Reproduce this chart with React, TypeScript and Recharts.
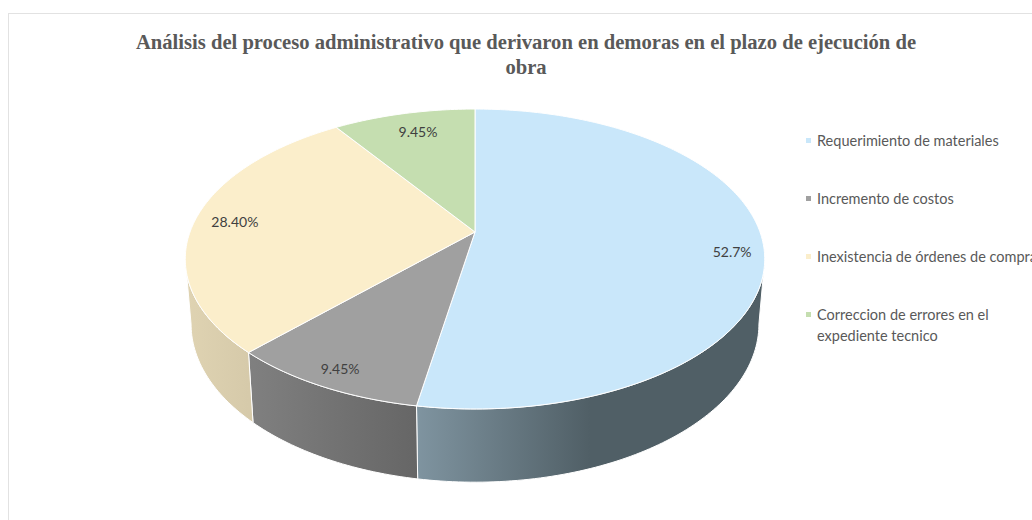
import { PieChart, Pie, Legend } from 'recharts';

const categories = [
  'Requerimiento de materiales',
  'Incremento de costos',
  'Inexistencia de órdenes de compra',
  'Correccion de errores en el expediente tecnico',
];
const values = [52.7, 9.45, 28.4, 9.45];
const valueLabels = ['52.7%', '9.45%', '28.40%', '9.45%'];
const colors = ['#c9e7fa', '#a0a0a0', '#fbeecb', '#c5deb0'];
const titleLines = [
  'Análisis del proceso administrativo que derivaron en demoras en el plazo de ejecución de',
  'obra',
];

const data = categories.map((name, i) => ({
  name,
  value: values[i],
  label: valueLabels[i],
  fill: colors[i],
  wall: `wall${i}`,
}));

// the pie is tilted with perspective, so a point on the unit disc gets projected
const CX = 475;
const CY = 232;
const RX = 285;
const RY = 145.1;
const K = 0.18;
// back edge of the visible side wall, degrees clockwise from the top
const WALL_FROM = 100.4;
const WALL_TO = 259.6;
const LABEL_RADIUS = 0.9;
const labelNudge = [
  [-2, 8],
  [0, 0],
  [12, 0],
  [8, 8],
];

function project(deg: number, r = 1) {
  const a = (deg * Math.PI) / 180;
  const u = r * Math.sin(a);
  const v = -r * Math.cos(a);
  const w = 1 - K * v;
  return { x: CX + (RX * u) / w, y: CY + (RY * v) / w };
}

// same rim, one wall height further down
function lower(p: { x: number; y: number }) {
  return { x: CX + (p.x - CX) * 0.98, y: 295.5 + (p.y - CY) * 1.055 };
}

function arc(from: number, to: number) {
  const n = Math.max(2, Math.ceil(Math.abs(to - from)));
  const pts = [];
  for (let i = 0; i <= n; i++) pts.push(project(from + ((to - from) * i) / n));
  return pts;
}

const toPath = (pts: { x: number; y: number }[]) =>
  pts.map((p, i) => `${i ? 'L' : 'M'}${p.x.toFixed(2)} ${p.y.toFixed(2)}`).join(' ');

function Slice(props: any) {
  const from = 90 - props.startAngle;
  const to = 90 - props.endAngle;
  const rim = arc(from, to);
  const top = `M${CX} ${CY} ${toPath(rim).replace('M', 'L')} Z`;
  const a = Math.max(from, WALL_FROM);
  const b = Math.min(to, WALL_TO);
  let wall = null;
  if (b > a) {
    const upper = arc(a, b);
    const bottom = upper.map(lower).reverse();
    wall = (
      <path
        d={`${toPath(upper)} ${toPath(bottom).replace('M', 'L')} Z`}
        fill={`url(#${props.payload?.wall ?? props.wall})`}
        stroke="#ffffff"
        strokeWidth={1}
      />
    );
  }
  return (
    <g>
      {wall}
      <path d={top} fill={props.fill} stroke="#ffffff" strokeWidth={1} />
    </g>
  );
}

function SliceLabel(props: any) {
  const { index, startAngle, endAngle } = props;
  const mid = 90 - (startAngle + endAngle) / 2;
  const p = project(mid, LABEL_RADIUS);
  return (
    <text
      x={p.x + labelNudge[index][0]}
      y={p.y + labelNudge[index][1]}
      textAnchor="middle"
      dominantBaseline="central"
      fontFamily="Lato"
      fontSize={14}
      fill="#404040"
    >
      {valueLabels[index]}
    </text>
  );
}

function LegendList(props: any) {
  return (
    <div style={{ fontFamily: 'Lato', fontSize: 14.5, lineHeight: '21px', color: '#595959' }}>
      {props.payload.map((entry: any) => (
        <div key={entry.value} style={{ position: 'relative', width: 190, marginBottom: 37, paddingLeft: 11 }}>
          <span
            style={{ position: 'absolute', left: 0, top: 8, width: 5, height: 5, background: entry.color }}
          />
          <span style={{ whiteSpace: entry.value.length > 40 ? 'normal' : 'nowrap' }}>{entry.value}</span>
        </div>
      ))}
    </div>
  );
}

export default function App() {
  return (
    <div
      style={{
        position: 'absolute',
        left: 0,
        top: 0,
        width: 1032,
        height: 520,
        overflow: 'hidden',
        background: '#ffffff',
      }}
    >
      <div
        style={{
          position: 'absolute',
          left: 8,
          top: 13,
          width: 1100,
          height: 600,
          borderLeft: '1px solid #e2e2e2',
          borderTop: '1px solid #e2e2e2',
        }}
      />
      <div style={{ position: 'absolute', left: 0, top: 0 }}>
        <PieChart width={1032} height={520} margin={{ top: 0, right: 0, bottom: 0, left: 0 }}>
          <defs>
            <linearGradient id="wall0" gradientUnits="userSpaceOnUse" x1="417" y1="0" x2="590" y2="0">
              <stop offset="0" stopColor="#7f94a0" />
              <stop offset="1" stopColor="#505f66" />
            </linearGradient>
            <linearGradient id="wall1" gradientUnits="userSpaceOnUse" x1="248" y1="0" x2="417" y2="0">
              <stop offset="0" stopColor="#808080" />
              <stop offset="1" stopColor="#666666" />
            </linearGradient>
            <linearGradient id="wall2" gradientUnits="userSpaceOnUse" x1="187" y1="0" x2="248" y2="0">
              <stop offset="0" stopColor="#dfd3b2" />
              <stop offset="1" stopColor="#d6caaa" />
            </linearGradient>
            <linearGradient id="wall3" gradientUnits="userSpaceOnUse" x1="0" y1="0" x2="1" y2="0">
              <stop offset="0" stopColor="#9db18c" />
              <stop offset="1" stopColor="#9db18c" />
            </linearGradient>
          </defs>
          <text
            textAnchor="middle"
            fontFamily="Liberation Serif"
            fontWeight="bold"
            fontSize={20.6}
            fill="#595959"
          >
            <tspan x={526} y={49}>
              {titleLines[0]}
            </tspan>
            <tspan x={526} y={74}>
              {titleLines[1]}
            </tspan>
          </text>
          <Pie
            data={data}
            dataKey="value"
            nameKey="name"
            cx={CX}
            cy={CY}
            outerRadius={RY}
            startAngle={90}
            endAngle={-270}
            shape={Slice}
            label={SliceLabel}
            labelLine={false}
            isAnimationActive={false}
          />
          <Legend
            content={LegendList}
            itemSorter={null}
            layout="vertical"
            wrapperStyle={{ position: 'absolute', left: 806, top: 130, width: 226, bottom: 'auto' }}
          />
        </PieChart>
      </div>
    </div>
  );
}
